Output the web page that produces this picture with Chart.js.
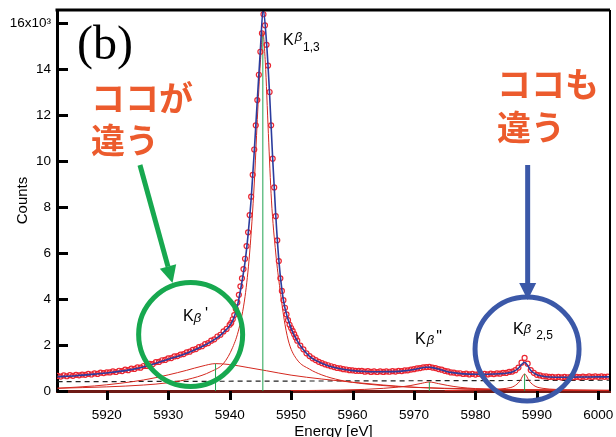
<!DOCTYPE html>
<html>
<head>
<meta charset="utf-8">
<title>Kβ spectrum (b)</title>
<style>
  body { margin: 0; background: #fff; }
  #wrap { width: 616px; height: 437px; }
</style>
</head>
<body>
<div id="wrap"><canvas id="spectrum" width="616" height="437"></canvas></div>
<script src="https://cdn.jsdelivr.net/npm/chart.js"></script>
<script>
// axis ticks
var xTicks = [5920, 5930, 5940, 5950, 5960, 5970, 5980, 5990, 6000];
var yTicks = [0, 2000, 4000, 6000, 8000, 10000, 12000, 14000, 16000];

// measured spectrum (red circles)
var dataEnergy = [
  5912, 5912.5, 5913, 5913.5, 5914, 5914.5, 5915, 5915.5, 5916, 5916.5,
  5917, 5917.5, 5918, 5918.5, 5919, 5919.5, 5920, 5920.5, 5921, 5921.5,
  5922, 5922.5, 5923, 5923.5, 5924, 5924.5, 5925, 5925.5, 5926, 5926.5,
  5927, 5927.5, 5928, 5928.5, 5929, 5929.5, 5930, 5930.5, 5931, 5931.5,
  5932, 5932.5, 5933, 5933.5, 5934, 5934.5, 5935, 5935.5, 5936, 5936.5,
  5937, 5937.5, 5938, 5938.5, 5939, 5939.5, 5940,
  5940.25, 5940.5, 5940.75, 5941, 5941.25, 5941.5, 5941.75, 5942, 5942.25, 5942.5,
  5942.75, 5943, 5943.25, 5943.5, 5943.75, 5944, 5944.25, 5944.5, 5944.75, 5945,
  5945.25, 5945.5, 5945.75, 5946, 5946.25, 5946.5, 5946.75, 5947, 5947.25, 5947.5,
  5947.75, 5948, 5948.25, 5948.5, 5948.75, 5949, 5949.25, 5949.5, 5949.75, 5950,
  5950.25, 5950.5, 5950.75, 5951,
  5951.5, 5952, 5952.5, 5953, 5953.5, 5954, 5954.5, 5955, 5955.5, 5956,
  5956.5, 5957, 5957.5, 5958, 5958.5, 5959, 5959.5, 5960, 5960.5, 5961,
  5961.5, 5962, 5962.5, 5963, 5963.5, 5964, 5964.5, 5965, 5965.5, 5966,
  5966.5, 5967, 5967.5, 5968, 5968.5, 5969, 5969.5, 5970, 5970.5, 5971,
  5971.5, 5972, 5972.5, 5973, 5973.5, 5974, 5974.5, 5975, 5975.5, 5976,
  5976.5, 5977, 5977.5, 5978, 5978.5, 5979, 5979.5, 5980, 5980.5, 5981,
  5981.5, 5982, 5982.5, 5983, 5983.5, 5984, 5984.5, 5985, 5985.5, 5986,
  5986.5, 5987, 5987.5, 5988, 5988.5, 5989, 5989.5, 5990, 5990.5, 5991,
  5991.5, 5992, 5992.5, 5993, 5993.5, 5994, 5994.5, 5995, 5995.5, 5996,
  5996.5, 5997, 5997.5, 5998, 5998.5, 5999, 5999.5, 6000, 6000.5, 6001,
  6001.5
];
var dataCounts = [
  655, 625, 675, 642, 688, 660, 702, 680, 712, 705,
  745, 718, 770, 742, 795, 778, 812, 808, 852, 826,
  880, 868, 925, 905, 972, 958, 1025, 1012, 1088, 1092,
  1175, 1172, 1258, 1262, 1338, 1350, 1420, 1432, 1502, 1518,
  1585, 1605, 1680, 1708, 1790, 1822, 1910, 1945, 2040, 2085,
  2190, 2245, 2370, 2445, 2590, 2700, 2880,
  2960, 3120, 3300, 3560, 3850, 4180, 4550, 4900, 5300, 5750,
  6300, 6900, 7650, 8450, 9400, 10500, 11550, 12650, 13750, 14750,
  15550, 16380, 15900, 15050, 14150, 13000, 11550, 10100, 8850, 7600,
  6550, 5650, 4900, 4350, 3950, 3620, 3330, 3080, 2880, 2740,
  2610, 2470, 2330, 2190,
  1975, 1810, 1640, 1520, 1420, 1345, 1270, 1215, 1160, 1120,
  1075, 1040, 1000, 985, 950, 935, 905, 900, 878, 875,
  872, 842, 862, 830, 850, 825, 856, 830, 852, 838,
  862, 845, 878, 868, 895, 900, 932, 948, 982, 998,
  1030, 1042, 1048, 1020, 998, 955, 925, 878, 852, 808,
  802, 768, 772, 740, 752, 722, 745, 715, 740, 718,
  745, 722, 752, 738, 766, 755, 792, 788, 828, 845,
  905, 1020, 1230, 1440, 1190, 910, 790, 705, 675, 642,
  640, 612, 618, 598, 612, 590, 615, 598, 618, 602,
  618, 600, 625, 608, 632, 612, 635, 615, 632, 618,
  628
];

// fitted envelope (blue line)
var fitEnergy = [
  5912, 5915, 5918, 5921, 5924, 5927, 5930, 5932, 5934, 5936, 5938, 5939, 5940,
  5940.5, 5941, 5941.5, 5942, 5942.5, 5943, 5943.5, 5944, 5944.5, 5945,
  5945.45, 5946, 5946.5, 5947, 5947.5, 5948, 5948.5, 5949,
  5950, 5951, 5952, 5953, 5954, 5956, 5958, 5960, 5962, 5964, 5966, 5968, 5970,
  5971, 5972, 5972.5, 5973, 5974, 5975, 5976,
  5978, 5980, 5982, 5984, 5985, 5986, 5987, 5987.5, 5988, 5988.5, 5989,
  5990, 5991, 5992, 5994, 5996, 5998, 6000, 6002
];
var fitCounts = [
  625, 665, 735, 815, 930, 1120, 1380, 1545, 1750, 2000, 2320, 2550, 2840,
  3060, 3420, 4000, 4750, 5600, 6800, 8350, 10400, 12650, 14850,
  16600, 15150, 12900, 10100, 7650, 5700, 4400, 3600,
  2720, 2180, 1790, 1510, 1330, 1100, 965, 885, 850, 838, 842, 865, 935,
  990, 1030, 1035, 1015, 955, 875, 810,
  745, 725, 730, 752, 775, 830, 990, 1150, 1250, 1110, 890,
  710, 645, 612, 596, 602, 610, 615, 615
];

// fitted components (thin red lines)
var mainEnergy = [
  5912, 5920, 5926, 5930, 5934, 5937, 5939, 5940.5, 5941.5, 5942.5, 5943.25,
  5944, 5944.5, 5945, 5945.4, 5945.8, 5946.3, 5946.8, 5947.5, 5948.2, 5949,
  5949.7, 5951, 5953, 5955, 5958, 5962, 5967, 5975, 5985, 5995, 6002
];
var mainCounts = [
  120, 180, 260, 360, 560, 850, 1200, 1900, 2700, 4100, 6000,
  9000, 11800, 14300, 15600, 14300, 11200, 8300, 6000, 4400, 2900,
  2050, 1350, 950, 700, 470, 310, 200, 120, 70, 45, 35
];
var kbPrimeEnergy = [5912, 5918, 5922, 5926, 5930, 5933, 5935.5, 5937.7, 5940, 5943, 5946, 5950, 5955, 5960, 5965, 5970, 5980, 5990, 6002];
var kbPrimeCounts = [120, 220, 330, 480, 700, 900, 1080, 1190, 1150, 1020, 880, 690, 520, 380, 260, 160, 70, 35, 15];
var kbDoubleEnergy = [5950, 5958, 5962, 5965, 5967.5, 5969.5, 5971, 5972.5, 5974, 5975.5, 5977.5, 5980, 5983, 5987, 5995];
var kbDoubleCounts = [15, 40, 70, 115, 170, 240, 320, 390, 320, 240, 160, 105, 70, 45, 20];
var kb25Energy = [5975, 5980, 5983, 5985, 5986.3, 5987.2, 5988, 5988.8, 5989.7, 5991, 5993, 5996, 6002];
var kb25Counts = [15, 40, 70, 115, 210, 420, 740, 420, 210, 115, 70, 40, 20];

// linear background (dashed)
var bgEnergy = [5912, 6002];
var bgCounts = [405, 468];

// peak positions (green sticks)
var stickEnergy = [5937.7, 5945.4, 5972.5, 5988.0];
var stickHeight = [1190, 15500, 390, 740];

function pairs(xs, ys) {
  return xs.map(function (x, i) { return { x: x, y: ys[i] }; });
}

function thinRed(label, xs, ys) {
  return {
    label: label, data: pairs(xs, ys), borderColor: '#d4281f', borderWidth: 1,
    pointRadius: 0, cubicInterpolationMode: 'monotone'
  };
}

var datasets = [
  { label: 'fit', data: pairs(fitEnergy, fitCounts), borderColor: '#2b3c9e', borderWidth: 1.6,
    pointRadius: 0, cubicInterpolationMode: 'monotone' },
  { label: 'measured', data: pairs(dataEnergy, dataCounts), showLine: false,
    pointRadius: 2.5, pointBorderWidth: 1.2, pointBorderColor: '#ea2530',
    pointBackgroundColor: 'rgba(0,0,0,0)' }
];
stickEnergy.forEach(function (e, i) {
  datasets.push({ label: 'stick' + i, data: pairs([e, e], [0, stickHeight[i]]),
    borderColor: '#22a352', borderWidth: 1, pointRadius: 0 });
});
datasets.push(thinRed('Kb13', mainEnergy, mainCounts));
datasets.push(thinRed("Kb'", kbPrimeEnergy, kbPrimeCounts));
datasets.push(thinRed("Kb''", kbDoubleEnergy, kbDoubleCounts));
datasets.push(thinRed('Kb25', kb25Energy, kb25Counts));
datasets.push({ label: 'background', data: pairs(bgEnergy, bgCounts), borderColor: '#222',
  borderWidth: 1.2, borderDash: [5, 4], pointRadius: 0 });

// annotations, placed in data coordinates
var circles = [
  { e: 5933.65, c: 2457, r: 52, color: '#17a84f' },
  { e: 5988.4, c: 1826, r: 52, color: '#3b58a8' }
];
var arrows = [
  { from: [5925.4, 9826], to: [5930.7, 4696], color: '#17a84f' },
  { from: [5988.5, 9826], to: [5988.5, 3957], color: '#3b58a8' }
];
var JF = 'bold 34px "Noto Sans CJK JP"';
var notes = [
  { text: '(b)', e: 5915.16, c: 14435, font: '48px "Liberation Serif"', color: '#000', base: 'alphabetic' },
  { text: 'ココが', e: 5917.43, c: 12739, font: JF, color: '#ec5b2d', base: 'middle' },
  { text: '違う', e: 5917.43, c: 10913, font: JF, color: '#ec5b2d', base: 'middle' },
  { text: 'ココも', e: 5983.5, c: 13348, font: JF, color: '#ec5b2d', base: 'middle' },
  { text: '違う', e: 5983.5, c: 11478, font: JF, color: '#ec5b2d', base: 'middle' }
];
var KF = '16px "Liberation Sans"', BF = 'italic 13px "Liberation Sans"', SF = '12px "Liberation Sans"';
var peakLabels = [
  { e: 5948.68, c: 15043, parts: [{ t: 'K', f: KF }, { t: 'β', f: BF, dx: 1, dy: -4 }, { t: '1,3', f: SF, dx: 1, dy: 6 }] },
  { e: 5932.41, c: 3043, parts: [{ t: 'K', f: KF }, { t: 'β', f: BF, dx: 0, dy: 1 }, { t: "'", f: KF, dx: 4, dy: -2 }] },
  { e: 5970.17, c: 2043, parts: [{ t: 'K', f: KF }, { t: 'β', f: BF, dx: 1, dy: 0 }, { t: '"', f: KF, dx: 2, dy: -2 }] },
  { e: 5986.12, c: 2478, parts: [{ t: 'K', f: KF }, { t: 'β', f: BF, dx: 0, dy: -1 }, { t: '2,5', f: SF, dx: 5, dy: 5 }] }
];

var decorations = {
  id: 'decorations',
  afterDraw: function (chart) {
    var ctx = chart.ctx, a = chart.chartArea;
    var xs = chart.scales.x, ys = chart.scales.y;
    ctx.save();
    // tick marks: y inward, x outward
    ctx.strokeStyle = '#000';
    ctx.lineWidth = 3;
    yTicks.forEach(function (v) {
      var y = Math.round(ys.getPixelForValue(v)) + 0.5;
      ctx.beginPath(); ctx.moveTo(a.left, y); ctx.lineTo(a.left + 11, y); ctx.stroke();
    });
    xTicks.forEach(function (v) {
      var x = Math.round(xs.getPixelForValue(v)) + 0.5;
      ctx.beginPath(); ctx.moveTo(x, a.bottom); ctx.lineTo(x, a.bottom + 9); ctx.stroke();
    });
    // frame on top and right
    ctx.beginPath(); ctx.moveTo(a.left - 1.5, a.top); ctx.lineTo(a.right, a.top); ctx.stroke();
    ctx.lineWidth = 2;
    ctx.beginPath(); ctx.moveTo(a.right, a.top); ctx.lineTo(a.right, a.bottom); ctx.stroke();

    circles.forEach(function (c) {
      ctx.strokeStyle = c.color; ctx.lineWidth = 5;
      ctx.beginPath();
      ctx.arc(xs.getPixelForValue(c.e), ys.getPixelForValue(c.c), c.r, 0, Math.PI * 2);
      ctx.stroke();
    });

    arrows.forEach(function (ar) {
      var x1 = xs.getPixelForValue(ar.from[0]), y1 = ys.getPixelForValue(ar.from[1]);
      var x2 = xs.getPixelForValue(ar.to[0]), y2 = ys.getPixelForValue(ar.to[1]);
      var len = Math.hypot(x2 - x1, y2 - y1), ux = (x2 - x1) / len, uy = (y2 - y1) / len;
      var head = 17, half = 8.5;
      var bx = x2 - ux * head, by = y2 - uy * head;
      ctx.strokeStyle = ar.color; ctx.fillStyle = ar.color; ctx.lineWidth = 5;
      ctx.beginPath(); ctx.moveTo(x1, y1); ctx.lineTo(bx, by); ctx.stroke();
      ctx.beginPath();
      ctx.moveTo(x2, y2);
      ctx.lineTo(bx - uy * half, by + ux * half);
      ctx.lineTo(bx + uy * half, by - ux * half);
      ctx.closePath(); ctx.fill();
    });

    notes.forEach(function (n) {
      ctx.font = n.font; ctx.fillStyle = n.color;
      ctx.textAlign = 'left'; ctx.textBaseline = n.base;
      ctx.fillText(n.text, xs.getPixelForValue(n.e), ys.getPixelForValue(n.c));
    });

    ctx.fillStyle = '#000'; ctx.textBaseline = 'alphabetic';
    peakLabels.forEach(function (lb) {
      var x = xs.getPixelForValue(lb.e), y = ys.getPixelForValue(lb.c);
      lb.parts.forEach(function (p) {
        ctx.font = p.f;
        x += p.dx || 0;
        ctx.fillText(p.t, x, y + (p.dy || 0));
        x += ctx.measureText(p.t).width;
      });
    });
    ctx.restore();
  }
};

function noPad(s) {
  s.paddingLeft = 0; s.paddingRight = 0; s.paddingTop = 0; s.paddingBottom = 0;
}

Chart.defaults.font.family = '"Liberation Sans", Arial, sans-serif';
Chart.defaults.color = '#000';

var chart = new Chart(document.getElementById('spectrum').getContext('2d'), {
  type: 'line',
  data: { datasets: datasets },
  options: {
    responsive: false,
    animation: false,
    layout: { padding: { left: 0, right: 6, top: 10, bottom: 0 } },
    plugins: { legend: { display: false }, tooltip: { enabled: false } },
    scales: {
      x: {
        type: 'linear', min: 5911.9, max: 6001.9,
        afterBuildTicks: function (s) { s.ticks = xTicks.map(function (v) { return { value: v }; }); },
        afterFit: function (s) { s.height = 46; noPad(s); },
        border: { color: '#6e1a15', width: 3 },
        grid: { drawOnChartArea: false, drawTicks: false },
        ticks: { padding: 16, color: '#000', font: { size: 13.5 }, maxRotation: 0,
          callback: function (v) { return String(v); } },
        title: { display: true, text: 'Energy [eV]', color: '#000', font: { size: 15 },
          padding: { top: 0, bottom: -4 } }
      },
      y: {
        min: 0, max: 16565,
        afterBuildTicks: function (s) { s.ticks = yTicks.map(function (v) { return { value: v }; }); },
        afterFit: function (s) { s.width = 57; noPad(s); },
        border: { color: '#000', width: 3 },
        grid: { drawOnChartArea: false, drawTicks: false },
        ticks: { padding: 6, color: '#000', font: { size: 13.5 },
          callback: function (v) { return v === 16000 ? '16x10³' : String(v / 1000); } },
        title: { display: true, text: 'Counts', color: '#000', font: { size: 15 },
          padding: { top: 14, bottom: 0 } }
      }
    }
  },
  plugins: [decorations]
});
</script>
</body>
</html>
